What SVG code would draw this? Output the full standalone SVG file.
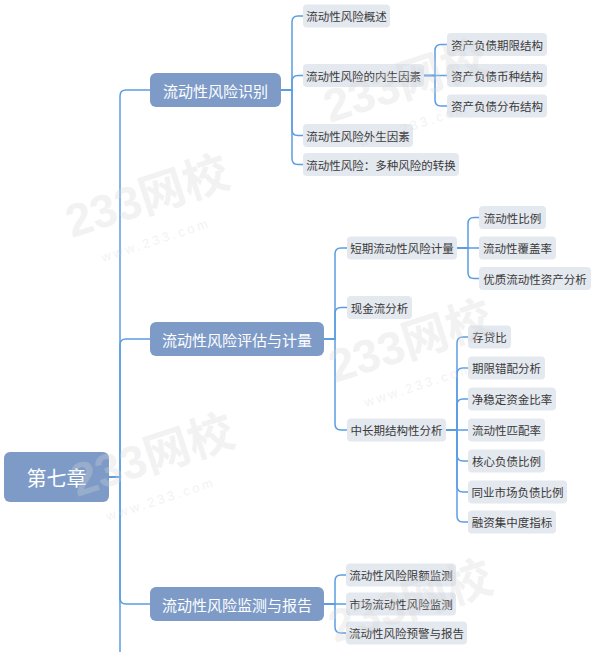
<svg xmlns="http://www.w3.org/2000/svg" width="600" height="652" viewBox="0 0 600 652">
<style>
text{font-family:"Noto Sans CJK SC","Noto Sans",sans-serif;dominant-baseline:central;text-anchor:middle}
.root rect,.l1 rect{fill:#7e9bc8}
.root text{fill:#fff;font-size:20px}
.l1 text{fill:#fff;font-size:15px}
.l2 rect{fill:#e4e8ef}
.l2 text{fill:#3a3a3a;font-size:11.5px}
#connectors path{fill:none;stroke:#5b9de2;stroke-width:1.5}
.wm text{font-family:"Liberation Sans","Noto Sans CJK SC",sans-serif;fill:#d6d6d6;opacity:0.3;text-anchor:start;dominant-baseline:auto}
.wm .big{font-size:46px;font-weight:bold}
.wm .small{font-size:13px;letter-spacing:3px}
</style>
<rect width="600" height="652" fill="#fff"/>
<g id="connectors">
<path d="M109,477 H120 V96 Q120,90 126,90 H150"/>
<path d="M109,477 H120 V345 Q120,339 126,339 H150"/>
<path d="M109,477 H120 V598 Q120,604 126,604 H150"/>
<path d="M109,477 H120 V660"/>
<path d="M281,90 H292 V22 Q292,16 298,16 H303"/>
<path d="M281,90 H292 V81.5 Q292,75.5 298,75.5 H303"/>
<path d="M281,90 H292 V129.5 Q292,135.5 298,135.5 H303"/>
<path d="M281,90 H292 V158.5 Q292,164.5 298,164.5 H303"/>
<path d="M424,75.5 H435 V50.5 Q435,44.5 441,44.5 H447"/>
<path d="M424,75.5 H447"/>
<path d="M424,75.5 H435 V100 Q435,106 441,106 H447"/>
<path d="M324,339 H335 V254 Q335,248 341,248 H347"/>
<path d="M324,339 H335 V313.5 Q335,307.5 341,307.5 H347"/>
<path d="M324,339 H335 V424 Q335,430 341,430 H347"/>
<path d="M457,248 H468 V223.5 Q468,217.5 474,217.5 H479"/>
<path d="M457,248 H479"/>
<path d="M457,248 H468 V272.5 Q468,278.5 474,278.5 H479"/>
<path d="M446,430 H457 V343 Q457,337 463,337 H468"/>
<path d="M446,430 H457 V374 Q457,368 463,368 H468"/>
<path d="M446,430 H457 V405 Q457,399 463,399 H468"/>
<path d="M446,430 H468"/>
<path d="M446,430 H457 V455 Q457,461 463,461 H468"/>
<path d="M446,430 H457 V486 Q457,492 463,492 H468"/>
<path d="M446,430 H457 V516 Q457,522 463,522 H468"/>
<path d="M324,604 H335 V581 Q335,575 341,575 H346"/>
<path d="M324,604 H346"/>
<path d="M324,604 H335 V627 Q335,633 341,633 H346"/>
</g>
<g id="root" class="root"><rect x="4" y="452" width="105" height="50" rx="6"/><text x="56.5" y="477">第七章</text></g>
<g id="n1" class="l1"><rect x="150" y="73" width="131" height="34" rx="6"/><text x="215.5" y="90">流动性风险识别</text></g>
<g id="n2" class="l1"><rect x="150" y="322" width="174" height="34" rx="6"/><text x="237" y="339">流动性风险评估与计量</text></g>
<g id="n3" class="l1"><rect x="150" y="587" width="174" height="34" rx="6"/><text x="237" y="604">流动性风险监测与报告</text></g>
<g id="n1a" class="l2"><rect x="303" y="4.5" width="87" height="23" rx="4"/><text x="346.5" y="16">流动性风险概述</text></g>
<g id="n1b" class="l2"><rect x="303" y="64" width="121" height="23" rx="4"/><text x="363.5" y="75.5">流动性风险的内生因素</text></g>
<g id="n1c" class="l2"><rect x="303" y="124" width="110" height="23" rx="4"/><text x="358" y="135.5">流动性风险外生因素</text></g>
<g id="n1d" class="l2"><rect x="303" y="153" width="156" height="23" rx="4"/><text x="381" y="164.5">流动性风险：多种风险的转换</text></g>
<g id="n1b1" class="l2"><rect x="447" y="33" width="100" height="23" rx="4"/><text x="497" y="44.5">资产负债期限结构</text></g>
<g id="n1b2" class="l2"><rect x="447" y="64" width="100" height="23" rx="4"/><text x="497" y="75.5">资产负债币种结构</text></g>
<g id="n1b3" class="l2"><rect x="447" y="94.5" width="100" height="23" rx="4"/><text x="497" y="106">资产负债分布结构</text></g>
<g id="n2a" class="l2"><rect x="347" y="236.5" width="110" height="23" rx="4"/><text x="402" y="248">短期流动性风险计量</text></g>
<g id="n2b" class="l2"><rect x="347" y="296" width="65" height="23" rx="4"/><text x="379.5" y="307.5">现金流分析</text></g>
<g id="n2c" class="l2"><rect x="347" y="418.5" width="99" height="23" rx="4"/><text x="396.5" y="430">中长期结构性分析</text></g>
<g id="n2a1" class="l2"><rect x="479" y="206" width="67" height="23" rx="4"/><text x="512.5" y="217.5">流动性比例</text></g>
<g id="n2a2" class="l2"><rect x="479" y="236.5" width="77" height="23" rx="4"/><text x="517.5" y="248">流动性覆盖率</text></g>
<g id="n2a3" class="l2"><rect x="479" y="267" width="112" height="23" rx="4"/><text x="535" y="278.5">优质流动性资产分析</text></g>
<g id="n2c1" class="l2"><rect x="468" y="325.5" width="43" height="23" rx="4"/><text x="489.5" y="337">存贷比</text></g>
<g id="n2c2" class="l2"><rect x="468" y="356.5" width="77" height="23" rx="4"/><text x="506.5" y="368">期限错配分析</text></g>
<g id="n2c3" class="l2"><rect x="468" y="387.5" width="88" height="23" rx="4"/><text x="512" y="399">净稳定资金比率</text></g>
<g id="n2c4" class="l2"><rect x="468" y="418.5" width="77" height="23" rx="4"/><text x="506.5" y="430">流动性匹配率</text></g>
<g id="n2c5" class="l2"><rect x="468" y="449.5" width="77" height="23" rx="4"/><text x="506.5" y="461">核心负债比例</text></g>
<g id="n2c6" class="l2"><rect x="468" y="480.5" width="99" height="23" rx="4"/><text x="517.5" y="492">同业市场负债比例</text></g>
<g id="n2c7" class="l2"><rect x="468" y="510.5" width="88" height="23" rx="4"/><text x="512" y="522">融资集中度指标</text></g>
<g id="n3a" class="l2"><rect x="346" y="563.5" width="110" height="23" rx="4"/><text x="401" y="575">流动性风险限额监测</text></g>
<g id="n3b" class="l2"><rect x="346" y="592.5" width="110" height="23" rx="4"/><text x="401" y="604">市场流动性风险监测</text></g>
<g id="n3c" class="l2"><rect x="346" y="621.5" width="121" height="23" rx="4"/><text x="406.5" y="633">流动性风险预警与报告</text></g>
<g class="wm">
<text class="big" transform="translate(72,238) rotate(-18)">233网校</text>
<text class="small" transform="translate(103,262) rotate(-18)">www.233.com</text>
<text class="big" transform="translate(77,497) rotate(-18)">233网校</text>
<text class="small" transform="translate(108,521) rotate(-18)">www.233.com</text>
<text class="big" transform="translate(335,383) rotate(-18)">233网校</text>
<text class="small" transform="translate(366,407) rotate(-18)">www.233.com</text>
<text class="big" transform="translate(330,123) rotate(-18)">233网校</text>
<text class="small" transform="translate(361,147) rotate(-18)">www.233.com</text>
<text class="big" transform="translate(335,643) rotate(-18)">233网校</text>
</g>
</svg>
